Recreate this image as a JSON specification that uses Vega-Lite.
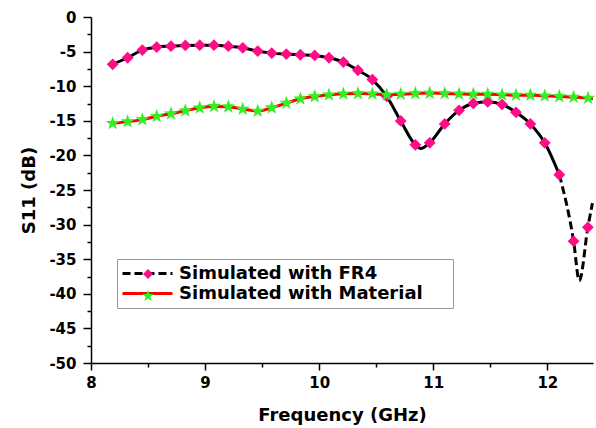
{
  "$schema": "https://vega.github.io/schema/vega-lite/v6.json",
  "width": 502,
  "height": 346,
  "autosize": {"type": "none"},
  "padding": {"left": 91, "top": 17, "right": 3, "bottom": 65},
  "background": "white",
  "config": {
    "view": {"stroke": null},
    "axis": {
      "grid": false,
      "domainColor": "black",
      "domainWidth": 1.5,
      "tickColor": "black",
      "tickWidth": 1.5,
      "labelFont": "DejaVu Sans",
      "labelFontWeight": "bold",
      "labelFontSize": 15,
      "labelColor": "black",
      "labelOverlap": false,
      "labelFlush": false,
      "titleFont": "DejaVu Sans",
      "titleFontWeight": "bold",
      "titleFontSize": 18,
      "titleColor": "black"
    },
    "legend": {
      "labelFont": "DejaVu Sans",
      "labelFontWeight": "bold",
      "labelFontSize": 18,
      "labelColor": "black",
      "labelLimit": 400
    }
  },
  "data": {
    "values": [
      {"f": 8.190, "s11": -6.84, "series": "Simulated with FR4", "kind": "marker"},
      {"f": 8.321, "s11": -5.89, "series": "Simulated with FR4", "kind": "marker"},
      {"f": 8.450, "s11": -4.78, "series": "Simulated with FR4", "kind": "marker"},
      {"f": 8.576, "s11": -4.35, "series": "Simulated with FR4", "kind": "marker"},
      {"f": 8.701, "s11": -4.21, "series": "Simulated with FR4", "kind": "marker"},
      {"f": 8.827, "s11": -4.11, "series": "Simulated with FR4", "kind": "marker"},
      {"f": 8.953, "s11": -4.07, "series": "Simulated with FR4", "kind": "marker"},
      {"f": 9.078, "s11": -4.07, "series": "Simulated with FR4", "kind": "marker"},
      {"f": 9.204, "s11": -4.21, "series": "Simulated with FR4", "kind": "marker"},
      {"f": 9.330, "s11": -4.45, "series": "Simulated with FR4", "kind": "marker"},
      {"f": 9.461, "s11": -4.93, "series": "Simulated with FR4", "kind": "marker"},
      {"f": 9.584, "s11": -5.22, "series": "Simulated with FR4", "kind": "marker"},
      {"f": 9.712, "s11": -5.36, "series": "Simulated with FR4", "kind": "marker"},
      {"f": 9.835, "s11": -5.45, "series": "Simulated with FR4", "kind": "marker"},
      {"f": 9.961, "s11": -5.55, "series": "Simulated with FR4", "kind": "marker"},
      {"f": 10.086, "s11": -5.89, "series": "Simulated with FR4", "kind": "marker"},
      {"f": 10.212, "s11": -6.51, "series": "Simulated with FR4", "kind": "marker"},
      {"f": 10.340, "s11": -7.70, "series": "Simulated with FR4", "kind": "marker"},
      {"f": 10.466, "s11": -9.04, "series": "Simulated with FR4", "kind": "marker"},
      {"f": 10.592, "s11": -11.48, "series": "Simulated with FR4", "kind": "marker"},
      {"f": 10.715, "s11": -15.02, "series": "Simulated with FR4", "kind": "marker"},
      {"f": 10.843, "s11": -18.47, "series": "Simulated with FR4", "kind": "marker"},
      {"f": 10.890, "s11": -19.0, "series": "Simulated with FR4", "kind": "curve"},
      {"f": 10.969, "s11": -18.18, "series": "Simulated with FR4", "kind": "marker"},
      {"f": 11.100, "s11": -15.45, "series": "Simulated with FR4", "kind": "marker"},
      {"f": 11.226, "s11": -13.49, "series": "Simulated with FR4", "kind": "marker"},
      {"f": 11.351, "s11": -12.49, "series": "Simulated with FR4", "kind": "marker"},
      {"f": 11.477, "s11": -12.25, "series": "Simulated with FR4", "kind": "marker"},
      {"f": 11.603, "s11": -12.63, "series": "Simulated with FR4", "kind": "marker"},
      {"f": 11.725, "s11": -13.78, "series": "Simulated with FR4", "kind": "marker"},
      {"f": 11.851, "s11": -15.45, "series": "Simulated with FR4", "kind": "marker"},
      {"f": 11.977, "s11": -18.18, "series": "Simulated with FR4", "kind": "marker"},
      {"f": 12.105, "s11": -22.8, "series": "Simulated with FR4", "kind": "marker"},
      {"f": 12.230, "s11": -32.4, "series": "Simulated with FR4", "kind": "marker"},
      {"f": 12.280, "s11": -38.1, "series": "Simulated with FR4", "kind": "curve"},
      {"f": 12.355, "s11": -30.4, "series": "Simulated with FR4", "kind": "marker"},
      {"f": 12.395, "s11": -26.9, "series": "Simulated with FR4", "kind": "curve"},
      {"f": 8.190, "s11": -15.36, "series": "Simulated with Material", "kind": "marker"},
      {"f": 8.321, "s11": -15.12, "series": "Simulated with Material", "kind": "marker"},
      {"f": 8.450, "s11": -14.83, "series": "Simulated with Material", "kind": "marker"},
      {"f": 8.576, "s11": -14.35, "series": "Simulated with Material", "kind": "marker"},
      {"f": 8.701, "s11": -13.97, "series": "Simulated with Material", "kind": "marker"},
      {"f": 8.827, "s11": -13.54, "series": "Simulated with Material", "kind": "marker"},
      {"f": 8.953, "s11": -13.11, "series": "Simulated with Material", "kind": "marker"},
      {"f": 9.078, "s11": -12.92, "series": "Simulated with Material", "kind": "marker"},
      {"f": 9.204, "s11": -12.97, "series": "Simulated with Material", "kind": "marker"},
      {"f": 9.330, "s11": -13.30, "series": "Simulated with Material", "kind": "marker"},
      {"f": 9.461, "s11": -13.59, "series": "Simulated with Material", "kind": "marker"},
      {"f": 9.584, "s11": -13.11, "series": "Simulated with Material", "kind": "marker"},
      {"f": 9.712, "s11": -12.44, "series": "Simulated with Material", "kind": "marker"},
      {"f": 9.835, "s11": -11.82, "series": "Simulated with Material", "kind": "marker"},
      {"f": 9.961, "s11": -11.48, "series": "Simulated with Material", "kind": "marker"},
      {"f": 10.086, "s11": -11.24, "series": "Simulated with Material", "kind": "marker"},
      {"f": 10.212, "s11": -11.10, "series": "Simulated with Material", "kind": "marker"},
      {"f": 10.340, "s11": -11.05, "series": "Simulated with Material", "kind": "marker"},
      {"f": 10.466, "s11": -11.10, "series": "Simulated with Material", "kind": "marker"},
      {"f": 10.592, "s11": -11.24, "series": "Simulated with Material", "kind": "marker"},
      {"f": 10.715, "s11": -11.15, "series": "Simulated with Material", "kind": "marker"},
      {"f": 10.843, "s11": -11.05, "series": "Simulated with Material", "kind": "marker"},
      {"f": 10.969, "s11": -11.00, "series": "Simulated with Material", "kind": "marker"},
      {"f": 11.100, "s11": -11.05, "series": "Simulated with Material", "kind": "marker"},
      {"f": 11.226, "s11": -11.10, "series": "Simulated with Material", "kind": "marker"},
      {"f": 11.351, "s11": -11.15, "series": "Simulated with Material", "kind": "marker"},
      {"f": 11.477, "s11": -11.15, "series": "Simulated with Material", "kind": "marker"},
      {"f": 11.603, "s11": -11.24, "series": "Simulated with Material", "kind": "marker"},
      {"f": 11.725, "s11": -11.29, "series": "Simulated with Material", "kind": "marker"},
      {"f": 11.851, "s11": -11.29, "series": "Simulated with Material", "kind": "marker"},
      {"f": 11.977, "s11": -11.39, "series": "Simulated with Material", "kind": "marker"},
      {"f": 12.105, "s11": -11.48, "series": "Simulated with Material", "kind": "marker"},
      {"f": 12.230, "s11": -11.58, "series": "Simulated with Material", "kind": "marker"},
      {"f": 12.357, "s11": -11.72, "series": "Simulated with Material", "kind": "marker"},
      {"f": 12.400, "s11": -11.80, "series": "Simulated with Material", "kind": "curve"}
    ]
  },
  "encoding": {
    "x": {
      "field": "f", "type": "quantitative",
      "scale": {"domain": [8, 12.4], "nice": false, "zero": false},
      "axis": {
        "title": "Frequency (GHz)",
        "values": [8, 8.5, 9, 9.5, 10, 10.5, 11, 11.5, 12],
        "labelExpr": "datum.value % 1 === 0 ? '' + datum.value : ''",
        "tickSize": {"condition": {"test": "datum.value % 1 !== 0", "value": 4}, "value": 7},
        "labelPadding": 5,
        "titlePadding": 16
      }
    },
    "y": {
      "field": "s11", "type": "quantitative",
      "scale": {"domain": [-50, 0], "nice": false, "zero": false},
      "axis": {
        "title": "S11 (dB)",
        "values": [-50, -47.5, -45, -42.5, -40, -37.5, -35, -32.5, -30, -27.5, -25, -22.5, -20, -17.5, -15, -12.5, -10, -7.5, -5, -2.5, 0],
        "labelExpr": "datum.value % 5 === 0 ? '' + datum.value : ''",
        "tickSize": {"condition": {"test": "datum.value % 5 !== 0", "value": 4}, "value": 8},
        "labelPadding": 7,
        "titlePadding": 10
      }
    }
  },
  "layer": [
    {
      "transform": [{"filter": "datum.series === 'Simulated with Material' || datum.f <= 12.11"}],
      "mark": {"type": "line", "strokeWidth": 3, "interpolate": "monotone"},
      "encoding": {
        "stroke": {
          "field": "series", "type": "nominal",
          "scale": {"domain": ["Simulated with FR4", "Simulated with Material"], "range": ["#000000", "#ff0000"]},
          "legend": {
            "title": "MM", "titleOrient": "right", "titleOpacity": 0, "titleFontSize": 12, "titlePadding": 5,
            "orient": "none", "legendX": 26, "legendY": 242,
            "padding": 5, "rowPadding": 1, "strokeColor": "#999999", "fillColor": "white",
            "symbolType": "M-3.125,0H3.125", "symbolSize": 256, "symbolStrokeWidth": 3,
            "symbolOffset": 16, "labelOffset": 22
          }
        }
      }
    },
    {
      "transform": [{"filter": "datum.series === 'Simulated with FR4' && datum.f >= 12.1"}],
      "mark": {"type": "line", "strokeWidth": 3, "interpolate": "monotone"},
      "encoding": {
        "stroke": {
          "field": "series", "type": "nominal",
          "scale": {"domain": ["Simulated with FR4", "Simulated with Material"], "range": ["#000000", "#ff0000"]},
          "legend": {
            "title": "MM", "titleOrient": "right", "titleOpacity": 0, "titleFontSize": 12, "titlePadding": 5,
            "orient": "none", "legendX": 26, "legendY": 242,
            "padding": 5, "rowPadding": 1, "strokeColor": "#999999", "fillColor": "white",
            "symbolType": "M-3.125,0H3.125", "symbolSize": 256, "symbolStrokeWidth": 3,
            "symbolOffset": 16, "labelOffset": 22
          }
        },
        "strokeDash": {
          "field": "series", "type": "nominal",
          "scale": {"domain": ["Simulated with FR4", "Simulated with Material"], "range": [[8, 4], [1, 0]]},
          "legend": {
            "title": "MM", "titleOrient": "right", "titleOpacity": 0, "titleFontSize": 12, "titlePadding": 5,
            "orient": "none", "legendX": 26, "legendY": 242,
            "padding": 5, "rowPadding": 1, "strokeColor": "#999999", "fillColor": "white",
            "symbolType": "M-3.125,0H3.125", "symbolSize": 256, "symbolStrokeWidth": 3,
            "symbolOffset": 16, "labelOffset": 22
          }
        }
      }
    },
    {
      "transform": [{"filter": "datum.kind === 'marker'"}],
      "mark": {"type": "point", "filled": true, "opacity": 1, "size": 140},
      "encoding": {
        "fill": {
          "field": "series", "type": "nominal",
          "scale": {"range": ["#ff0d87", "#33ee22"]},
          "legend": {
            "title": null, "orient": "none", "legendX": 51, "legendY": 251,
            "padding": 0, "rowPadding": 4, "symbolOpacity": 1,
            "labelExpr": "''", "labelFontSize": 1
          }
        },
        "shape": {
          "field": "series", "type": "nominal",
          "scale": {"range": ["diamond", "M0,-1.25L0.294,-0.405L1.189,-0.386L0.475,0.155L0.735,1.011L0,0.5L-0.735,1.011L-0.475,0.155L-1.189,-0.386L-0.294,-0.405Z"]},
          "legend": {
            "title": null, "orient": "none", "legendX": 51, "legendY": 251,
            "padding": 0, "rowPadding": 4, "symbolOpacity": 1,
            "labelExpr": "''", "labelFontSize": 1
          }
        }
      }
    }
  ]
}
